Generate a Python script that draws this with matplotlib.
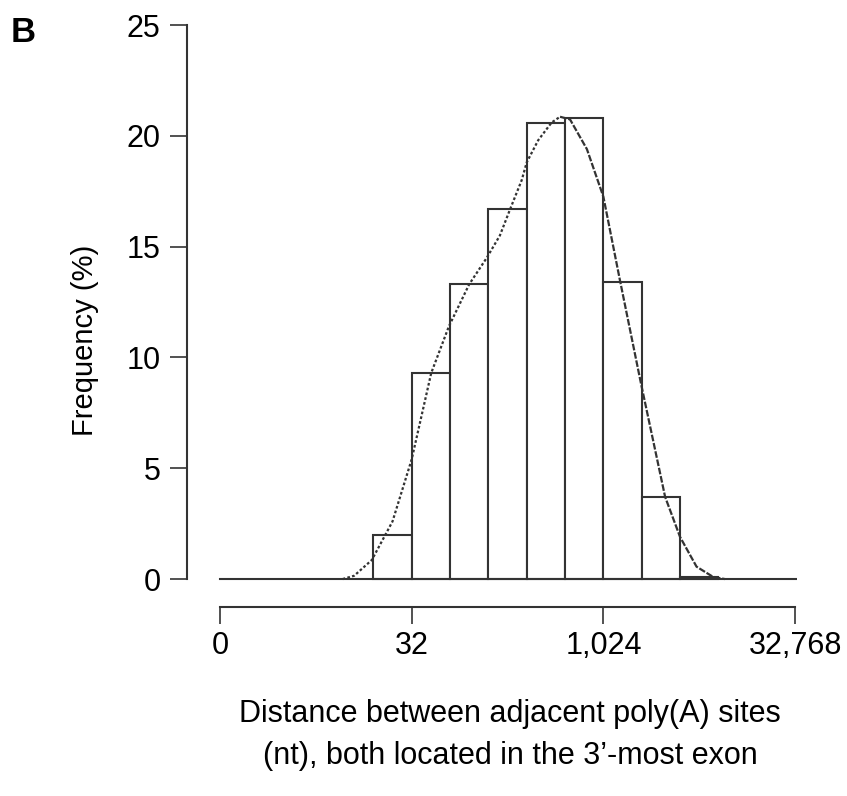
import numpy as np
import matplotlib
matplotlib.use("Agg")
import matplotlib.pyplot as plt

plt.rcParams['font.family'] = ['Liberation Sans', 'DejaVu Sans']

# histogram bins on log2 scale (left edges) and frequency in %
bin_left = [4, 5, 6, 7, 8, 9, 10, 11, 12]
freq = [2.0, 9.3, 13.3, 16.7, 20.6, 20.8, 13.4, 3.7, 0.1]

# fitted density curve (log2 distance, %)
curve_x = [3.2, 3.5, 3.96, 4.5, 5.0, 5.51, 5.97, 6.5, 6.96, 7.3, 7.57, 7.87, 8.0,
           8.3, 8.65, 8.87, 9.13, 9.57, 10.0, 10.43, 10.98, 11.48, 11.61, 12.0,
           12.43, 12.86, 13.17]
curve_y = [0.0, 0.15, 0.86, 2.6, 5.4, 9.3, 11.4, 13.3, 14.5, 15.5, 16.7, 18.0, 18.8,
           19.8, 20.6, 20.86, 20.74, 19.4, 17.25, 13.5, 8.83, 4.77, 3.71, 1.9,
           0.56, 0.1, 0.0]
peak_idx = 15

xtick_pos = [0, 5, 10, 15]
xtick_lab = ["0", "32", "1,024", "32,768"]
ytick_pos = [0, 5, 10, 15, 20, 25]

W, H = 847, 796
fig = plt.figure(figsize=(W / 100, H / 100), dpi=100)
ax = fig.add_axes([187 / W, 1 - 607 / H, (797 - 187) / W, (607 - 25) / H])

lc = '#333333'
ax.bar(bin_left, freq, width=1.0, align='edge', facecolor='white',
       edgecolor=lc, linewidth=1.5, zorder=2)
ax.plot([0, 15.05], [0, 0], color=lc, lw=1.5, zorder=3)

# left half dotted, right half dashed
ax.plot(curve_x[:peak_idx + 1], curve_y[:peak_idx + 1], color=lc, lw=1.6,
        linestyle=(0, (1.2, 1.0)), zorder=4)
ax.plot(curve_x[peak_idx:], curve_y[peak_idx:], color=lc, lw=1.6,
        linestyle=(0, (3.0, 0.8)), zorder=4)

ax.set_xlim(-0.86, 15.05)
ax.set_ylim(-1.26, 25)
for s in ['top', 'right']:
    ax.spines[s].set_visible(False)
ax.spines['left'].set_bounds(0, 25)
ax.spines['bottom'].set_bounds(0, 15)
for s in ['left', 'bottom']:
    ax.spines[s].set_color(lc)
    ax.spines[s].set_linewidth(1.5)

ax.set_xticks(xtick_pos)
ax.set_xticklabels(xtick_lab)
ax.set_yticks(ytick_pos)
ax.tick_params(axis='both', direction='out', length=12, width=1.2, color=lc,
               labelsize=22)
ax.tick_params(axis='y', pad=7)
ax.tick_params(axis='x', pad=5)

fig.text(85 / W, 1 - 340 / H, "Frequency (%)", rotation=90, fontsize=21,
         ha='center', va='center')
fig.text(510 / W, 1 - 735 / H,
         "Distance between adjacent poly(A) sites\n(nt), both located in the 3\u2019-most exon",
         fontsize=22, ha='center', va='center', linespacing=1.5)
fig.text(23 / W, 1 - 32 / H, "B", fontsize=25, fontweight='bold',
         ha='center', va='center')

fig.savefig("out.png", dpi=100)
